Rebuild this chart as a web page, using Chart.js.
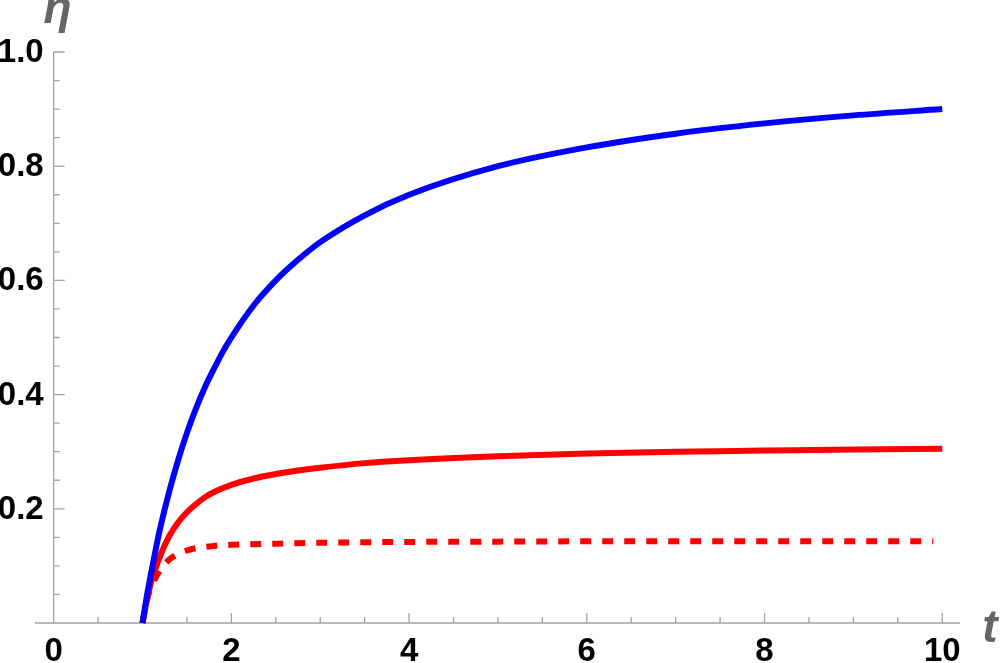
<!DOCTYPE html>
<html lang="en">
<head>
    <meta charset="UTF-8">
    <title>eta vs t</title>
    <script src="https://cdn.jsdelivr.net/npm/chart.js"></script>
    <style>
        body { margin: 0; background: #fff; }
        canvas { display: block; }
    </style>
</head>
<body>
    <canvas id="etaChart" width="1000" height="663"></canvas>
    <script>
        // values
        const blueT = [1, 1.05, 1.1, 1.15, 1.2, 1.3, 1.4, 1.5, 1.6, 1.7, 1.8, 1.9, 2, 2.25, 2.5, 2.75, 3, 3.5, 4, 5, 6, 7, 8, 9, 10];
        const blueEta = [0, 0.048, 0.09, 0.13, 0.167, 0.23, 0.285, 0.333, 0.375, 0.412, 0.444, 0.474, 0.5, 0.556, 0.6, 0.636, 0.667, 0.714, 0.75, 0.8, 0.833, 0.857, 0.875, 0.889, 0.9];

        const redT = [1, 1.05, 1.1, 1.15, 1.2, 1.25, 1.3, 1.4, 1.5, 1.6, 1.7, 1.8, 1.9, 2, 2.25, 2.5, 2.75, 3, 3.5, 4, 5, 6, 7, 8, 9, 10];
        const redEta = [0, 0.04, 0.073, 0.097, 0.118, 0.136, 0.152, 0.176, 0.194, 0.208, 0.22, 0.229, 0.236, 0.242, 0.253, 0.261, 0.267, 0.272, 0.28, 0.285, 0.292, 0.297, 0.3, 0.302, 0.304, 0.305];

        const dashT = [1, 1.05, 1.1, 1.15, 1.2, 1.25, 1.3, 1.4, 1.5, 1.6, 1.8, 2, 2.5, 3, 4, 5, 6, 8, 9.9];
        const dashEta = [0, 0.04, 0.064, 0.08, 0.093, 0.103, 0.111, 0.121, 0.127, 0.131, 0.135, 0.137, 0.139, 0.1405, 0.142, 0.1425, 0.143, 0.143, 0.143];

        const xTickLabels = [0, 2, 4, 6, 8, 10];
        const yTickLabels = [0.2, 0.4, 0.6, 0.8, 1.0];

        const toPoints = (xs, ys) => xs.map((x, i) => ({ x: x, y: ys[i] }));

        const axisColor = '#a3a3a3';
        const labelFont = 'bold 33px "Liberation Sans", Arial, sans-serif';
        const titleFont = 'italic bold 46px "Liberation Sans", Arial, sans-serif';

        // Mathematica-style axes crossing at the origin, ticks pointing inwards
        const axesPlugin = {
            id: 'mmaAxes',
            beforeDatasetsDraw(chart) {
                const { ctx, scales: { x, y } } = chart;
                const x0 = x.getPixelForValue(0);
                const y0 = y.getPixelForValue(0);
                ctx.save();
                ctx.strokeStyle = axisColor;
                ctx.lineWidth = 1.3;
                ctx.beginPath();
                ctx.moveTo(x.left, y0);
                ctx.lineTo(x.right, y0);
                ctx.moveTo(x0, y0);
                ctx.lineTo(x0, y.getPixelForValue(1));
                // x ticks
                for (let k = 0; k <= 20; k++) {
                    const px = x.getPixelForValue(k * 0.5);
                    const len = k % 4 === 0 ? 10 : 6;
                    ctx.moveTo(px, y0);
                    ctx.lineTo(px, y0 - len);
                }
                // y ticks
                for (let k = 0; k <= 20; k++) {
                    const py = y.getPixelForValue(k * 0.05);
                    const len = k % 4 === 0 ? 11 : 6;
                    ctx.moveTo(x0, py);
                    ctx.lineTo(x0 + len, py);
                }
                ctx.stroke();
                ctx.restore();
            },
            afterDraw(chart) {
                const { ctx, scales: { x, y } } = chart;
                const x0 = x.getPixelForValue(0);
                const y0 = y.getPixelForValue(0);
                ctx.save();
                ctx.fillStyle = '#000';
                ctx.font = labelFont;
                ctx.textAlign = 'center';
                ctx.textBaseline = 'alphabetic';
                xTickLabels.forEach(v => {
                    ctx.fillText(String(v), x.getPixelForValue(v), y0 + 38);
                });
                ctx.textAlign = 'right';
                ctx.textBaseline = 'middle';
                yTickLabels.forEach(v => {
                    ctx.fillText(v.toFixed(1), x0 - 10, y.getPixelForValue(v) + 1);
                });
                // axis titles
                ctx.fillStyle = '#666';
                ctx.font = titleFont;
                ctx.textAlign = 'center';
                ctx.textBaseline = 'alphabetic';
                ctx.fillText('η', x0 + 4, 23);
                ctx.fillText('t', x.right + 30, y0 + 19);
                ctx.restore();
            }
        };

        const ctx = document.getElementById('etaChart').getContext('2d');
        const chart = new Chart(ctx, {
            type: 'line',
            data: {
                datasets: [
                    {
                        label: 'blue',
                        data: toPoints(blueT, blueEta),
                        borderColor: '#0000ff',
                        borderWidth: 6,
                        pointRadius: 0,
                        cubicInterpolationMode: 'monotone',
                        clip: false
                    },
                    {
                        label: 'red',
                        data: toPoints(redT, redEta),
                        borderColor: '#ff0000',
                        borderWidth: 6,
                        pointRadius: 0,
                        cubicInterpolationMode: 'monotone',
                        clip: false
                    },
                    {
                        label: 'red dashed',
                        data: toPoints(dashT, dashEta),
                        borderColor: '#ff0000',
                        borderWidth: 6,
                        borderDash: [11, 11],
                        pointRadius: 0,
                        cubicInterpolationMode: 'monotone',
                        clip: false
                    }
                ]
            },
            options: {
                responsive: false,
                animation: false,
                layout: {
                    padding: { left: 35, right: 40, top: 52, bottom: 40 }
                },
                scales: {
                    x: { type: 'linear', min: -0.21, max: 10.2, display: false },
                    y: { type: 'linear', min: 0, max: 1.0, display: false }
                },
                plugins: {
                    legend: { display: false },
                    tooltip: { enabled: false }
                }
            },
            plugins: [axesPlugin]
        });
    </script>
</body>
</html>
